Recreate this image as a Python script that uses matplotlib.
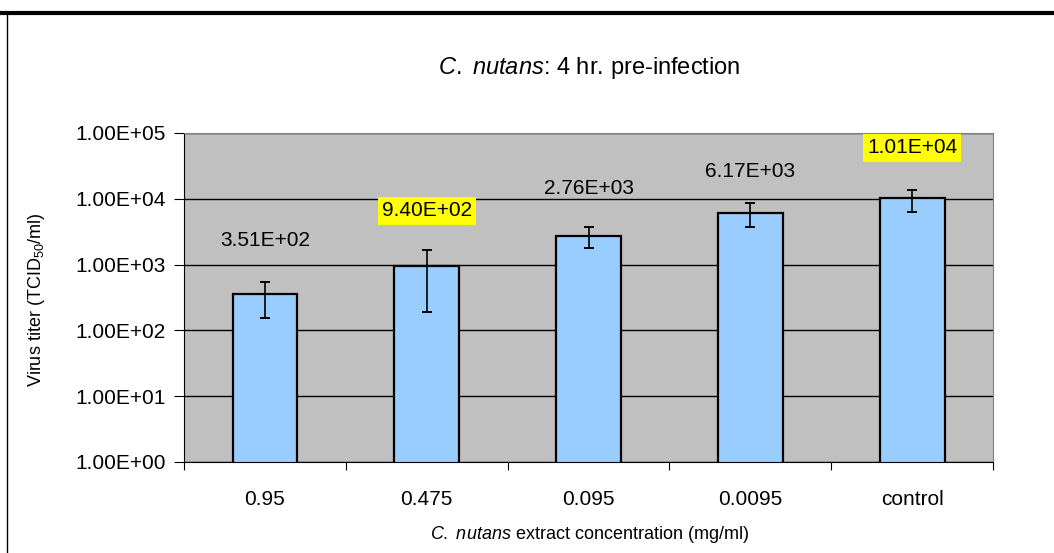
import numpy as np
import matplotlib
matplotlib.use("Agg")
import matplotlib.pyplot as plt
from matplotlib.lines import Line2D

# data
categories = ["0.95", "0.475", "0.095", "0.0095", "control"]
titers = [351, 940, 2760, 6170, 10100]
errors = [195, 750, 980, 2400, 3700]
labels = ["3.51E+02", "9.40E+02", "2.76E+03", "6.17E+03", "1.01E+04"]
highlighted = [False, True, False, False, True]
label_y = [2285, 6530, 14100, 26400, 59200]
yticks = [1e0, 1e1, 1e2, 1e3, 1e4, 1e5]
ytick_labels = ["1.00E+00", "1.00E+01", "1.00E+02", "1.00E+03", "1.00E+04", "1.00E+05"]

plt.rcParams["font.family"] = ["Liberation Sans", "DejaVu Sans"]
plt.rcParams["mathtext.fontset"] = "custom"
plt.rcParams["mathtext.rm"] = "Liberation Sans"
plt.rcParams["mathtext.it"] = "Liberation Sans:italic"

fig = plt.figure(figsize=(10.54, 5.53), dpi=100)
ax = fig.add_axes([0.1746, 0.1646, 0.7676, 0.595])
ax.set_facecolor("#C0C0C0")

x = np.arange(len(categories))
ax.set_yscale("log")
ax.set_ylim(1, 1e5)
ax.set_xlim(-0.5, len(categories) - 0.5)

for t in yticks:
    ax.axhline(t, color="black", lw=1, zorder=1)

ax.bar(x, titers, width=0.4, color="#99CCFF", edgecolor="black", lw=1.6, zorder=2)
ax.errorbar(x, titers, yerr=errors, fmt="none", ecolor="black", elinewidth=1.2,
            capsize=3.5, capthick=1.4, zorder=3)

for xi, ly, txt, hl in zip(x, label_y, labels, highlighted):
    bbox = dict(facecolor="yellow", edgecolor="none", pad=3) if hl else None
    ax.text(xi, ly, txt, ha="center", va="center", fontsize=15, bbox=bbox, zorder=4)

ax.set_yticks(yticks)
ax.set_yticklabels(ytick_labels, fontsize=15)
ax.yaxis.set_minor_locator(matplotlib.ticker.NullLocator())
ax.set_xticks(np.arange(len(categories) + 1) - 0.5)
ax.set_xticklabels([])
ax.set_xticks(x, minor=True)
ax.set_xticklabels(categories, minor=True, fontsize=15)
ax.tick_params(axis="x", which="major", length=6, direction="out")
ax.tick_params(axis="x", which="minor", length=0, pad=20)
ax.tick_params(axis="y", length=7, direction="out", pad=6)

ax.spines["left"].set_color("black")
ax.spines["bottom"].set_color("black")
ax.spines["top"].set_color("#808080")
ax.spines["right"].set_color("#808080")

fig.text(0.035, 0.4575, "Virus titer (TCID$_{50}$/ml)", rotation=90,
         ha="center", va="center", fontsize=13)
fig.text(0.559, 0.033, "$\\it{C.}$ $\\it{nutans}$ extract concentration (mg/ml)",
         ha="center", va="center", fontsize=13)
fig.text(0.559, 0.877, "$\\it{C.}$ $\\it{nutans}$: 4 hr. pre-infection",
         ha="center", va="center", fontsize=17)

# page frame from the original document
fig.add_artist(Line2D([0.0, 1.0], [0.976, 0.976], color="black", lw=3, transform=fig.transFigure))
fig.add_artist(Line2D([0.0066, 0.0066], [0.0, 0.976], color="black", lw=1, transform=fig.transFigure))

fig.savefig("out.png", dpi=100)
